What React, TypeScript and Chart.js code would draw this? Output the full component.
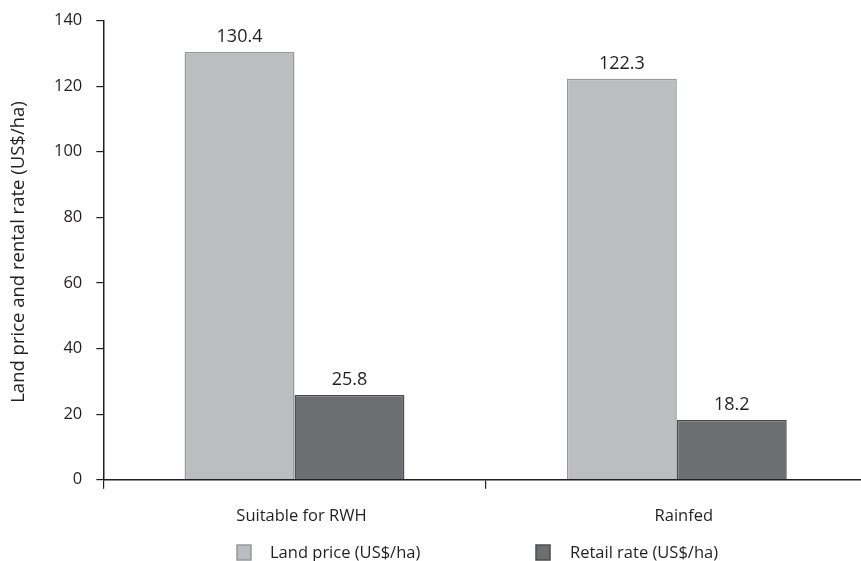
import React, { useEffect, useRef } from "react";
import { Chart, registerables } from "chart.js";

Chart.register(...registerables);

const categories = ["Suitable for RWH", "Rainfed"];
const landPrice = [130.4, 122.3];
const retailRate = [25.8, 18.2];
const seriesNames = ["Land price (US$/ha)", "Retail rate (US$/ha)"];
const yMin = 0;
const yMax = 140;
const yStep = 20;
const yTitle = "Land price and rental rate (US$/ha)";

const TEXT = "#231f20";
const FONT = "'Open Sans', 'Noto Sans', sans-serif";
const fills = ["#bcbdc0", "#6d6e71"];
const borders = ["#97989b", "#4d4d4f"];

const valueLabels = {
  id: "valueLabels",
  afterDatasetsDraw(chart: any) {
    const ctx = chart.ctx;
    ctx.save();
    ctx.fillStyle = TEXT;
    ctx.font = `18px ${FONT}`;
    ctx.textAlign = "center";
    ctx.textBaseline = "middle";
    chart.data.datasets.forEach((ds: any, i: number) => {
      const meta = chart.getDatasetMeta(i);
      meta.data.forEach((el: any, j: number) => {
        ctx.fillText(Number(ds.data[j]).toFixed(1), el.x, el.y - 15);
      });
    });
    ctx.restore();
  },
};

const extras = {
  id: "extras",
  afterDraw(chart: any) {
    const ctx = chart.ctx;
    ctx.save();
    // y axis title
    ctx.fillStyle = TEXT;
    ctx.font = `18.5px ${FONT}`;
    ctx.textAlign = "center";
    ctx.textBaseline = "middle";
    ctx.translate(19, 252);
    ctx.rotate(-Math.PI / 2);
    ctx.fillText(yTitle, 0, 0);
    ctx.restore();

    // legend
    ctx.save();
    const boxXs = [237, 536];
    const textXs = [270, 570];
    const boxY = 545;
    chart.data.datasets.forEach((ds: any, i: number) => {
      ctx.fillStyle = fills[i];
      ctx.strokeStyle = borders[i];
      ctx.lineWidth = 1.5;
      ctx.fillRect(boxXs[i], boxY, 14, 15);
      ctx.strokeRect(boxXs[i], boxY, 14, 15);
      ctx.fillStyle = TEXT;
      ctx.font = `16.5px ${FONT}`;
      ctx.textAlign = "left";
      ctx.textBaseline = "middle";
      ctx.fillText(ds.label, textXs[i], boxY + 8);
    });
    ctx.restore();
  },
};

export default function App() {
  const ref = useRef<HTMLCanvasElement | null>(null);

  useEffect(() => {
    if (!ref.current) return;
    const chart = new Chart(ref.current, {
      type: "bar",
      data: {
        labels: categories,
        datasets: [
          {
            label: seriesNames[0],
            data: landPrice,
            backgroundColor: fills[0],
            borderColor: borders[0],
            borderWidth: 1.5,
            categoryPercentage: 0.575,
            barPercentage: 1,
          },
          {
            label: seriesNames[1],
            data: retailRate,
            backgroundColor: fills[1],
            borderColor: borders[1],
            borderWidth: 1.5,
            categoryPercentage: 0.575,
            barPercentage: 1,
          },
        ],
      },
      options: {
        responsive: false,
        animation: false,
        devicePixelRatio: 1,
        layout: { padding: { left: 40, top: 20, right: 12, bottom: 16.5 } },
        plugins: {
          legend: { display: false },
          tooltip: { enabled: false },
        },
        scales: {
          x: {
            grid: {
              display: true,
              drawOnChartArea: false,
              drawTicks: true,
              tickLength: 9,
              color: TEXT,
              lineWidth: 1.2,
              offset: true,
            },
            border: { display: true, color: TEXT, width: 1.5 },
            ticks: {
              color: TEXT,
              font: { size: 16.5, family: FONT },
              padding: 18,
              labelOffset: 7,
            },
          },
          y: {
            min: yMin,
            max: yMax,
            grid: {
              display: true,
              drawOnChartArea: false,
              drawTicks: true,
              tickLength: 7,
              color: TEXT,
              lineWidth: 1.2,
            },
            border: { display: true, color: TEXT, width: 1.5 },
            ticks: {
              stepSize: yStep,
              color: TEXT,
              font: { size: 16.5, family: FONT, lineHeight: 0.8 },
              padding: 14,
            },
          },
        },
      },
      plugins: [valueLabels, extras],
    });
    return () => chart.destroy();
  }, []);

  return (
    <div
      style={{
        position: "fixed",
        left: 0,
        top: 0,
        width: 861,
        height: 561,
        overflow: "hidden",
        background: "#ffffff",
      }}
    >
      <canvas ref={ref} width={880} height={561} style={{ display: "block" }} />
    </div>
  );
}
